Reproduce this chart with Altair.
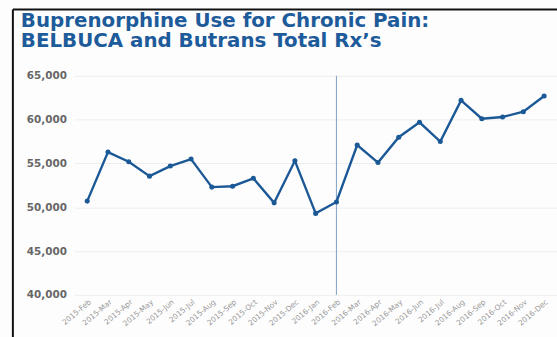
import altair as alt
import pandas as pd

months = ["2015-Feb", "2015-Mar", "2015-Apr", "2015-May", "2015-Jun", "2015-Jul",
          "2015-Aug", "2015-Sep", "2015-Oct", "2015-Nov", "2015-Dec", "2016-Jan",
          "2016-Feb", "2016-Mar", "2016-Apr", "2016-May", "2016-Jun", "2016-Jul",
          "2016-Aug", "2016-Sep", "2016-Oct", "2016-Nov", "2016-Dec"]
rx = [50700, 56300, 55200, 53550, 54700, 55500, 52300, 52400, 53300, 50500, 55300, 49300,
      50600, 57100, 55100, 58000, 59700, 57500, 62200, 60100, 60300, 60900, 62700]
marker_month = ["2016-Feb"]
y_ticks = [40000, 45000, 50000, 55000, 60000, 65000]

df = pd.DataFrame({"month": months, "rx": rx})
mk = pd.DataFrame({"month": marker_month})

x_enc = alt.X("month:N", sort=months, scale=alt.Scale(type="point", padding=0.62),
              axis=alt.Axis(title=None, labelAngle=-40, labelAlign="right",
                            labelBaseline="top", labelFontSize=7.5, labelColor="#999999",
                            labelFont="DejaVu Sans", ticks=False, domain=False,
                            labelPadding=3, grid=False))
y_enc = alt.Y("rx:Q", scale=alt.Scale(domain=[40000, 65000], nice=False, zero=False),
              axis=alt.Axis(title=None, values=y_ticks, format=",.0f", labelFontSize=10.5,
                            labelFontWeight="bold", labelColor="#666666",
                            labelFont="DejaVu Sans", ticks=False, domain=False,
                            labelPadding=8, gridColor="#eeeeee"))

line = alt.Chart(df).mark_line(color="#1b5896", strokeWidth=2.4,
                               point=alt.OverlayMarkDef(color="#1b5896", size=26, filled=True)
                               ).encode(x=x_enc, y=y_enc)

rule = alt.Chart(mk).mark_rule(color="#7f9fc8", strokeWidth=1).encode(
    x=alt.X("month:N", sort=months))

frame_left = alt.Chart(mk).mark_rule(color="#111111", strokeWidth=2).encode(
    x=alt.value(-62), y=alt.value(-67), y2=alt.value(270))
frame_top = alt.Chart(mk).mark_rule(color="#111111", strokeWidth=2).encode(
    x=alt.value(-62), x2=alt.value(490), y=alt.value(-67))

chart = alt.layer(rule, line, frame_left, frame_top).properties(
    width=487, height=221,
    padding={"left": 75, "top": 75, "right": 0, "bottom": 41},
    autosize=alt.AutoSizeParams(type="none"),
    background="#fdfdfd",
    title=alt.TitleParams(
        text=["Buprenorphine Use for Chronic Pain:", "BELBUCA and Butrans Total Rx\u2019s"],
        anchor="start", frame="group", dx=-54, offset=-43, fontSize=20,
        font="DejaVu Sans", fontWeight="bold", color="#1d5b9a", lineHeight=20)
).configure_view(stroke=None)

chart.save("out.html", embed_options={"renderer": "svg", "actions": False})
